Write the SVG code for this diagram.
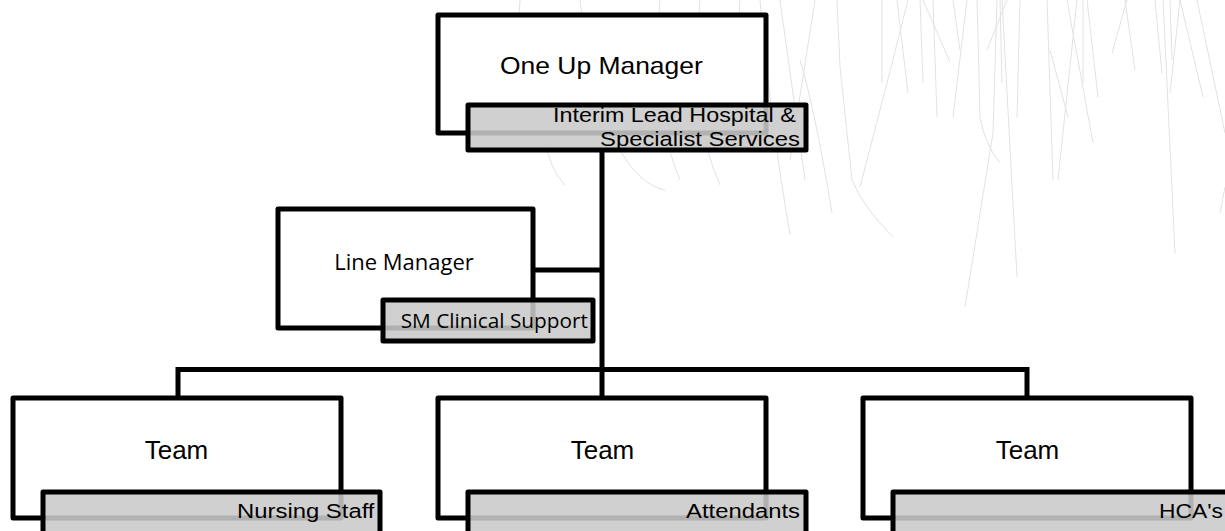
<svg xmlns="http://www.w3.org/2000/svg" width="1225" height="531" viewBox="0 0 1225 531">
<style>
.bg{fill:none;stroke:#e2e2e2;stroke-width:1}
.box{fill:#fff;stroke:#000;stroke-width:5;stroke-linejoin:round}
.sub{fill:#c9c9c9;fill-opacity:0.88;stroke:#000;stroke-width:5;stroke-linejoin:round}
.conn{fill:none;stroke:#000;stroke-width:5}
.t{font-family:"Liberation Sans",Arial,sans-serif;fill:#000}
.c{font-family:"Open Sans","Noto Sans",sans-serif;fill:#000}
</style>
<rect width="1225" height="531" fill="#fff"/>
<g id="background">
<path class="bg" d="M837,0 L840,67 L852,180 Q863,207 893,237"/>
<path class="bg" d="M800,60 Q815,110 832,213"/>
<path class="bg" d="M908,0 L887,83 L860,187"/>
<path class="bg" d="M897,0 L908,93"/>
<path class="bg" d="M882,0 L882,83"/>
<path class="bg" d="M920,0 L923,83"/>
<path class="bg" d="M933,0 L937,117"/>
<path class="bg" d="M923,0 L950,62"/>
<path class="bg" d="M967,0 L953,117"/>
<path class="bg" d="M953,0 L960,50"/>
<path class="bg" d="M977,0 L980,117 Q985,145 1000,163"/>
<path class="bg" d="M1000,0 L1002,83"/>
<path class="bg" d="M1007,0 L987,50"/>
<path class="bg" d="M997,0 L993,133 L965,307"/>
<path class="bg" d="M1002,0 L1017,277"/>
<path class="bg" d="M1020,0 L1017,117"/>
<path class="bg" d="M1047,0 L1053,180"/>
<path class="bg" d="M1050,50 L1068,117"/>
<path class="bg" d="M1077,0 L1058,180"/>
<path class="bg" d="M1067,0 L1093,143"/>
<path class="bg" d="M1087,0 L1098,97"/>
<path class="bg" d="M1083,0 L1083,83"/>
<path class="bg" d="M1127,0 L1112,53"/>
<path class="bg" d="M1125,0 L1135,70"/>
<path class="bg" d="M1155,0 L1162,73"/>
<path class="bg" d="M1163,0 L1175,253"/>
<path class="bg" d="M1180,0 L1170,93"/>
<path class="bg" d="M1180,0 L1203,97"/>
<path class="bg" d="M1197,0 L1225,133"/>
<path class="bg" d="M1225,187 L1220,213"/>
<path class="bg" d="M1170,0 L1172,60"/>
<path class="bg" d="M760,0 Q770,120 790,235"/>
<path class="bg" d="M780,0 L805,180"/>
<path class="bg" d="M815,0 L790,160"/>
<path class="bg" d="M740,0 L735,90"/>
<path class="bg" d="M700,0 Q690,120 720,185"/>
<path class="bg" d="M660,0 Q650,110 680,180"/>
<path class="bg" d="M620,150 Q640,185 665,190"/>
<path class="bg" d="M545,140 Q550,170 565,185"/>
<path class="bg" d="M580,0 L585,40"/>
<path class="bg" d="M520,0 L518,30"/>
</g>
<g id="connectors">
<path class="conn" d="M602,150 L602,398"/>
<path class="conn" d="M178,398 L178,369.5 L1027,369.5 L1027,398"/>
<path class="conn" d="M533,270 L602,270"/>
</g>
<g id="node-one-up">
<rect class="box" x="438" y="15" width="328" height="118"/>
<text class="t" transform="translate(500,74) scale(1.15,1)" font-size="23">One Up Manager</text>
<rect class="sub" x="468" y="105" width="338" height="45"/>
<text class="t" transform="translate(553,122) scale(1.113,1)" font-size="21">Interim Lead Hospital &amp;</text>
<text class="t" transform="translate(600,146) scale(1.135,1)" font-size="21">Specialist Services</text>
</g>
<g id="node-line-manager">
<rect class="box" x="278" y="209" width="255" height="119"/>
<text class="c" x="404" y="270" font-size="22" text-anchor="middle">Line Manager</text>
<rect class="sub" x="383" y="300" width="210" height="41"/>
<text class="c" x="588" y="328" font-size="20.8" text-anchor="end">SM Clinical Support</text>
</g>
<g id="node-team-1">
<rect class="box" x="13" y="398" width="328" height="120"/>
<text class="t" x="176.5" y="459" font-size="26" text-anchor="middle">Team</text>
<rect class="sub" x="43" y="492" width="337" height="50"/>
<text class="t" transform="translate(237,518) scale(1.137,1)" font-size="21">Nursing Staff</text>
</g>
<g id="node-team-2">
<rect class="box" x="438" y="398" width="328" height="120"/>
<text class="t" x="602.5" y="459" font-size="26" text-anchor="middle">Team</text>
<rect class="sub" x="468" y="492" width="338" height="50"/>
<text class="t" transform="translate(686,518) scale(1.135,1)" font-size="21">Attendants</text>
</g>
<g id="node-team-3">
<rect class="box" x="863" y="398" width="328" height="120"/>
<text class="t" x="1027.5" y="459" font-size="26" text-anchor="middle">Team</text>
<rect class="sub" x="893" y="492" width="340" height="50"/>
<text class="t" transform="translate(1159,518) scale(1.088,1)" font-size="21">HCA's</text>
</g>
</svg>
